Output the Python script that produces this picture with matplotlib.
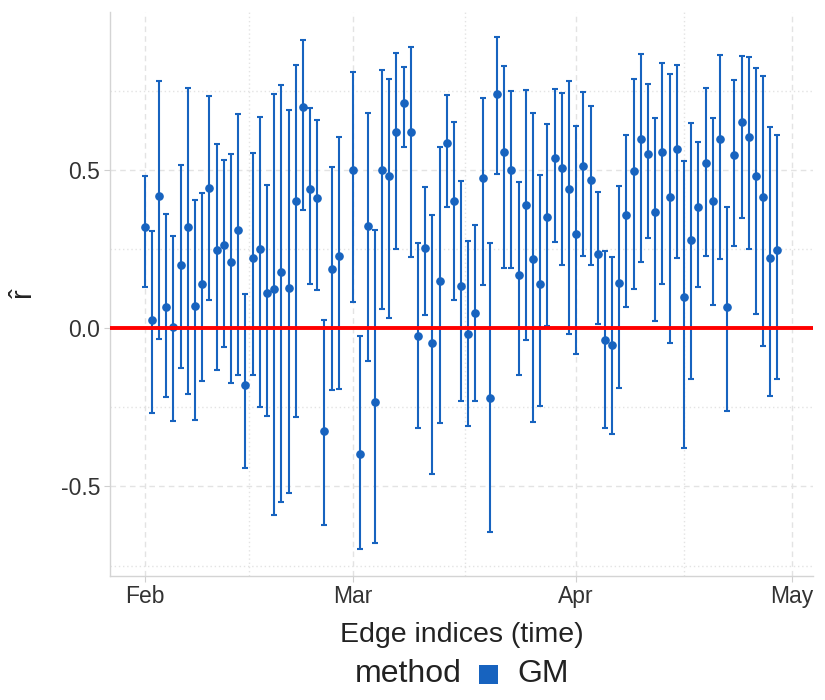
import numpy as np
import pandas as pd
import matplotlib
matplotlib.use("Agg")
import matplotlib.pyplot as plt
import matplotlib.dates as mdates
from matplotlib.patches import Rectangle

plt.rcParams['font.family'] = ['Liberation Sans', 'DejaVu Sans']
plt.rcParams['mathtext.fontset'] = 'custom'
plt.rcParams['mathtext.rm'] = 'Liberation Sans'

# ---- data ----
dates = pd.date_range("2024-02-01", "2024-04-29", freq="D")
dates = dates[dates != pd.Timestamp("2024-02-29")]  # no estimate on Feb 29

r_hat = [
    # February 1-28
    0.318, 0.025, 0.418, 0.065, 0.003, 0.200, 0.318, 0.071, 0.138, 0.443,
    0.245, 0.261, 0.210, 0.310, -0.181, 0.220, 0.249, 0.112, 0.122, 0.176,
    0.126, 0.402, 0.697, 0.440, 0.412, -0.326, 0.188, 0.228,
    # March 1-31
    0.500, -0.397, 0.321, -0.233, 0.499, 0.480, 0.618, 0.712, 0.618, -0.025,
    0.252, -0.047, 0.147, 0.583, 0.400, 0.133, -0.019, 0.048, 0.475, -0.220,
    0.740, 0.557, 0.500, 0.167, 0.388, 0.217, 0.139, 0.351, 0.536, 0.504,
    0.438,
    # April 1-29
    0.298, 0.513, 0.469, 0.234, -0.037, -0.055, 0.143, 0.356, 0.496, 0.596,
    0.549, 0.367, 0.556, 0.415, 0.566, 0.099, 0.279, 0.382, 0.521, 0.402,
    0.596, 0.065, 0.548, 0.652, 0.604, 0.481, 0.415, 0.221, 0.247,
]
upper = [
    0.481, 0.308, 0.779, 0.361, 0.292, 0.516, 0.757, 0.404, 0.428, 0.734,
    0.582, 0.530, 0.549, 0.676, 0.107, 0.554, 0.667, 0.452, 0.740, 0.767,
    0.688, 0.830, 0.910, 0.694, 0.658, 0.024, 0.507, 0.602,
    0.808, -0.025, 0.680, 0.309, 0.815, 0.785, 0.867, 0.825, 0.888, 0.270,
    0.444, 0.356, 0.571, 0.736, 0.651, 0.464, 0.274, 0.325, 0.727, 0.270,
    0.918, 0.828, 0.747, 0.460, 0.753, 0.680, 0.482, 0.645, 0.755, 0.743,
    0.779,
    0.638, 0.744, 0.701, 0.430, 0.242, 0.224, 0.447, 0.610, 0.785, 0.864,
    0.771, 0.662, 0.836, 0.802, 0.830, 0.527, 0.646, 0.588, 0.758, 0.662,
    0.861, 0.381, 0.783, 0.858, 0.857, 0.822, 0.797, 0.635, 0.611,
]
lower = [
    0.129, -0.267, -0.034, -0.219, -0.292, -0.127, -0.208, -0.290, -0.167, 0.088,
    -0.133, -0.061, -0.172, -0.149, -0.442, -0.148, -0.248, -0.278, -0.589, -0.548,
    -0.521, -0.282, 0.372, 0.138, 0.120, -0.621, -0.197, -0.193,
    0.082, -0.697, -0.104, -0.679, 0.060, 0.033, 0.249, 0.571, 0.224, -0.317,
    0.042, -0.461, -0.299, 0.381, 0.089, -0.231, -0.310, -0.231, 0.137, -0.644,
    0.485, 0.190, 0.190, -0.148, -0.038, -0.298, -0.247, 0.008, 0.271, 0.198,
    -0.019,
    -0.081, 0.229, 0.198, 0.012, -0.316, -0.334, -0.189, 0.067, 0.122, 0.207,
    0.283, 0.021, 0.139, -0.047, 0.222, -0.378, -0.162, 0.130, 0.228, 0.073,
    0.219, -0.262, 0.260, 0.347, 0.249, 0.045, -0.058, -0.213, -0.162,
]
method_label = "GM"
legend_title = "method"
x_label = "Edge indices (time)"
y_label = r"$\hat{\mathrm{r}}$"
month_ticks = pd.to_datetime(["2024-02-01", "2024-03-01", "2024-04-01", "2024-05-01"])
y_ticks = [-0.5, 0.0, 0.5]
y_minor = [-0.75, -0.25, 0.25, 0.75]

# ---- plot ----
blue = "#1763BF"
W, H = 825, 700
fig = plt.figure(figsize=(W / 100, H / 100), dpi=100)
ax = fig.add_axes([110 / W, 1 - 575.7 / H, (812.7 - 110) / W, (575.7 - 12) / H])

r = np.array(r_hat)
lo = np.array(lower)
hi = np.array(upper)
ax.errorbar(dates, r, yerr=[r - lo, hi - r], fmt="o", color=blue, ecolor=blue,
            markersize=5.2, elinewidth=1.5, capsize=2.0, capthick=1.5, zorder=3)
ax.axhline(0, color="#FF0000", linewidth=2.8, zorder=4)

ax.set_xlim(pd.Timestamp("2024-02-01") - pd.Timedelta(days=4.83),
            pd.Timestamp("2024-02-01") + pd.Timedelta(days=92.9))
ax.set_ylim(-0.782, 0.998)

ax.set_xticks(month_ticks)
ax.xaxis.set_major_formatter(mdates.DateFormatter("%b"))
minor_x = month_ticks[:-1] + (month_ticks[1:] - month_ticks[:-1]) / 2
ax.set_xticks(minor_x, minor=True)
ax.set_yticks(y_ticks)
ax.set_yticklabels(["-0.5", "0.0", "0.5"])
ax.set_yticks(y_minor, minor=True)

grid_c = "#E3E3E3"
ax.grid(which="major", color=grid_c, linestyle=(0, (4, 3)), linewidth=1.0)
ax.grid(which="minor", color=grid_c, linestyle=(0, (1, 2)), linewidth=1.0)
ax.set_axisbelow(True)

for s in ["top", "right"]:
    ax.spines[s].set_visible(False)
for s in ["left", "bottom"]:
    ax.spines[s].set_color("#D4D4D4")
    ax.spines[s].set_linewidth(1.0)

ax.tick_params(which="major", length=4, width=0.8, color="#CFCFCF",
               labelsize=16.5, labelcolor="#333333", pad=3)
ax.tick_params(which="minor", length=0)

ax.set_xlabel(x_label, fontsize=20.5, color="#222222", labelpad=10)
# rotated y-axis title, placed explicitly
fig.text(25 / W, 1 - 294 / H, y_label, fontsize=21, color="#222222",
         rotation=90, ha="center", va="center")

# legend (title on the left, as in the reference)
ly = 1 - 674 / H
fig.text(355 / W, ly, legend_title, fontsize=23, color="#222222",
         ha="left", va="center")
fig.patches.append(Rectangle((479 / W, ly - 9.5 / H), 19 / W, 19 / H,
                             transform=fig.transFigure, facecolor=blue,
                             edgecolor="none"))
fig.text(517 / W, ly, method_label, fontsize=23, color="#222222",
         ha="left", va="center")

fig.savefig("out.png", dpi=100)
